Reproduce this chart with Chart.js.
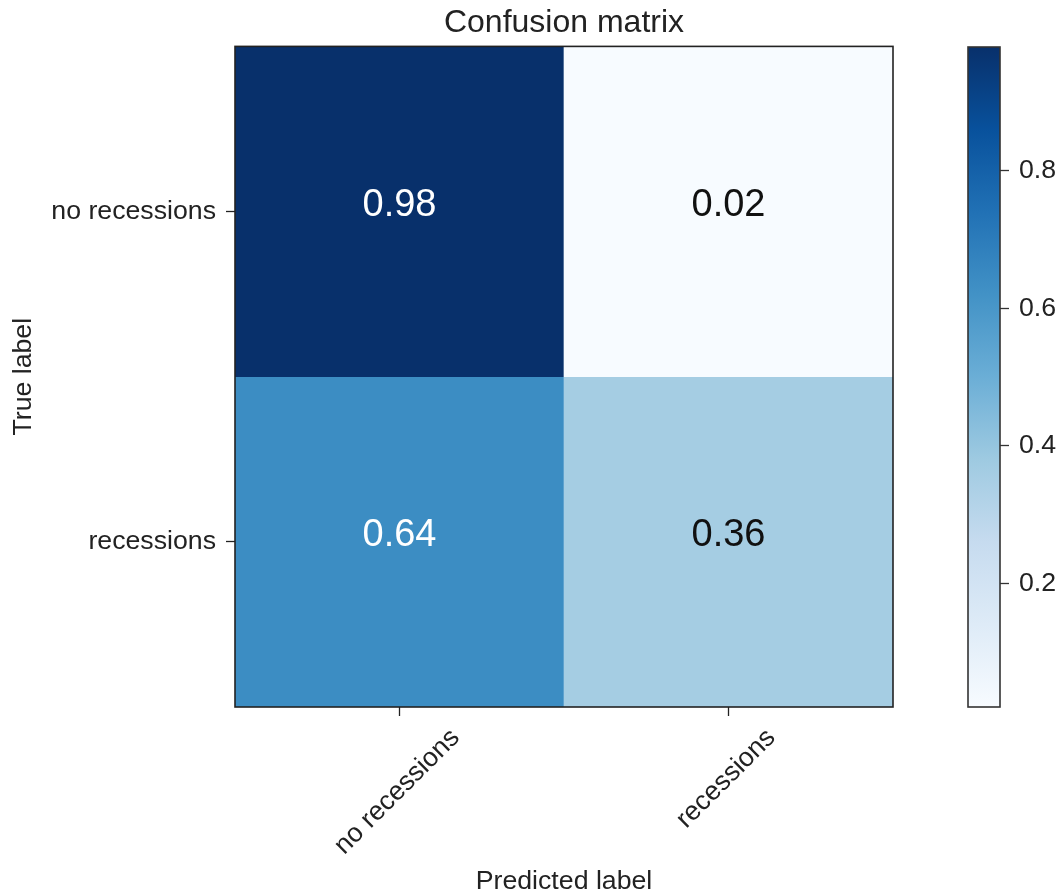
<!DOCTYPE html>
<html>
<head>
<meta charset="utf-8">
<script src="https://cdn.jsdelivr.net/npm/chart.js@4.4.0/dist/chart.umd.min.js"></script>
<style>
  html, body { margin: 0; padding: 0; background: #ffffff; }
  #wrap { position: relative; width: 1061px; height: 895px; }
  #main { position: absolute; left: 0; top: 0; }
  #cbar { position: absolute; left: 940px; top: 0; }
</style>
</head>
<body>
<div id="wrap">
  <canvas id="main" width="940" height="895"></canvas>
  <canvas id="cbar" width="121" height="895"></canvas>
</div>
<script>
// ---- data ----
const colLabels = ['no recessions', 'recessions'];   // predicted
const rowLabels = ['no recessions', 'recessions'];   // true
const rowNoRecessions = [0.98, 0.02];
const rowRecessions = [0.64, 0.36];
const matrix = [rowNoRecessions, rowRecessions];
const cbMin = 0.02;
const cbMax = 0.98;
const cbTicks = [0.2, 0.4, 0.6, 0.8];

// ---- style ----
const bluesStops = ['#f7fbff','#deebf7','#c6dbef','#9ecae1','#6baed6','#4292c6','#2171b5','#08519c','#08306b'];
const FONT = "'Liberation Sans', Arial, Helvetica, sans-serif";
const TXT = '#222222';
const FS = 26.7;
Chart.defaults.font.family = FONT;
Chart.defaults.color = TXT;

function hexToRgb(h) {
  return [parseInt(h.substr(1,2),16), parseInt(h.substr(3,2),16), parseInt(h.substr(5,2),16)];
}
function blues(t) {
  t = Math.max(0, Math.min(1, t));
  const n = bluesStops.length - 1;
  const p = t * n;
  const i = Math.min(n - 1, Math.floor(p));
  const f = p - i;
  const a = hexToRgb(bluesStops[i]), b = hexToRgb(bluesStops[i + 1]);
  const c = a.map((v, k) => Math.round(v + (b[k] - v) * f));
  return 'rgb(' + c.join(',') + ')';
}
const norm = v => (v - cbMin) / (cbMax - cbMin);
const thresh = Math.max(...matrix.flat()) / 2;

const overlayPlugin = {
  id: 'overlay',
  afterDatasetsDraw(chart) {
    const {ctx, chartArea: a, scales} = chart;
    // cell values
    ctx.save();
    ctx.font = '38px ' + FONT;
    ctx.textAlign = 'center';
    ctx.textBaseline = 'alphabetic';
    matrix.forEach((row, i) => {
      row.forEach((v, j) => {
        const px = scales.x.getPixelForValue(j);
        const py = scales.y.getPixelForValue(i);
        ctx.fillStyle = v > thresh ? '#ffffff' : '#111111';
        ctx.fillText(v.toFixed(2), px, py + 4);
      });
    });
    ctx.restore();
    // frame
    ctx.save();
    ctx.strokeStyle = '#222222';
    ctx.lineWidth = 1.6;
    ctx.strokeRect(a.left, a.top, a.right - a.left, a.bottom - a.top);
    ctx.restore();
  },
  afterDraw(chart) {
    const {ctx, chartArea: a, scales} = chart;
    ctx.save();
    ctx.font = FS + 'px ' + FONT;
    ctx.fillStyle = TXT;
    ctx.textAlign = 'center';
    ctx.textBaseline = 'alphabetic';
    colLabels.forEach((lab, j) => {
      const tx = scales.x.getPixelForValue(j);
      const w = ctx.measureText(lab).width;
      const half = (w + 0.52 * FS) * Math.SQRT1_2 / 2;
      ctx.save();
      ctx.translate(tx - 2, a.bottom + 22 + half);
      ctx.rotate(-Math.PI / 4);
      ctx.fillText(lab, 0, 0.26 * FS);
      ctx.restore();
    });
    ctx.restore();
  }
};

new Chart(document.getElementById('main'), {
  type: 'bar',
  data: {
    labels: colLabels,
    datasets: rowLabels.map((r, i) => ({
      label: r,
      data: colLabels.map(() => [i - 0.5, i + 0.5]),
      backgroundColor: matrix[i].map(v => blues(norm(v))),
      borderWidth: 0,
      grouped: false,
      barPercentage: 1,
      categoryPercentage: 1
    }))
  },
  options: {
    responsive: false,
    animation: false,
    layout: { padding: { left: 0, right: 47, top: 0, bottom: 0 } },
    plugins: {
      legend: { display: false },
      tooltip: { enabled: false },
      title: {
        display: true,
        fullSize: false,
        text: 'Confusion matrix',
        color: TXT,
        font: { size: 32, weight: 'normal', family: FONT },
        padding: { top: 4, bottom: 4 }
      }
    },
    scales: {
      x: {
        type: 'category',
        offset: true,
        grid: { offset: false, drawOnChartArea: false, drawTicks: true, tickLength: 9, tickColor: '#222222', tickWidth: 1.3 },
        border: { display: false },
        ticks: { color: 'rgba(0,0,0,0)', maxRotation: 0, minRotation: 0, autoSkip: false, font: { size: FS } },
        title: { display: true, text: 'Predicted label', color: TXT, font: { size: FS, lineHeight: 1 }, padding: 0 },
        afterFit: s => { s.height = 188; }
      },
      y: {
        type: 'linear',
        min: -0.5,
        max: 1.5,
        reverse: true,
        afterBuildTicks: s => { s.ticks = rowLabels.map((_, i) => ({ value: i })); },
        ticks: { callback: v => rowLabels[v], color: TXT, font: { size: FS }, padding: 10 },
        grid: { drawOnChartArea: false, drawTicks: true, tickLength: 9, tickColor: '#222222', tickWidth: 1.3 },
        border: { display: false },
        title: { display: true, text: 'True label', color: TXT, font: { size: FS }, padding: { top: 8, bottom: 0 } },
        afterFit: s => { s.width = 235; }
      }
    }
  },
  plugins: [overlayPlugin]
});

const cbFramePlugin = {
  id: 'cbframe',
  afterDatasetsDraw(chart) {
    const {ctx, chartArea: a} = chart;
    ctx.save();
    ctx.strokeStyle = '#333333';
    ctx.lineWidth = 1.6;
    ctx.strokeRect(a.left, a.top, a.right - a.left, a.bottom - a.top);
    ctx.restore();
  }
};

new Chart(document.getElementById('cbar'), {
  type: 'bar',
  data: {
    labels: ['cb'],
    datasets: [{
      data: [[cbMin, cbMax]],
      backgroundColor: (context) => {
        const {chartArea, ctx} = context.chart;
        if (!chartArea) return bluesStops[4];
        const g = ctx.createLinearGradient(0, chartArea.bottom, 0, chartArea.top);
        bluesStops.forEach((c, k) => g.addColorStop(k / (bluesStops.length - 1), c));
        return g;
      },
      borderWidth: 0,
      barPercentage: 1,
      categoryPercentage: 1
    }]
  },
  options: {
    responsive: false,
    animation: false,
    layout: { padding: { left: 28, right: 0, top: 47, bottom: 188 } },
    plugins: { legend: { display: false }, tooltip: { enabled: false }, title: { display: false } },
    scales: {
      x: { display: false },
      y: {
        type: 'linear',
        position: 'right',
        min: cbMin,
        max: cbMax,
        afterBuildTicks: s => { s.ticks = cbTicks.map(v => ({ value: v })); },
        ticks: { callback: v => v.toFixed(1), color: TXT, font: { size: FS }, padding: 10 },
        grid: { drawOnChartArea: false, drawTicks: true, tickLength: 9, tickColor: '#333333', tickWidth: 1.3 },
        border: { display: false },
        afterFit: s => { s.width = 61; }
      }
    }
  },
  plugins: [cbFramePlugin]
});
</script>
</body>
</html>
